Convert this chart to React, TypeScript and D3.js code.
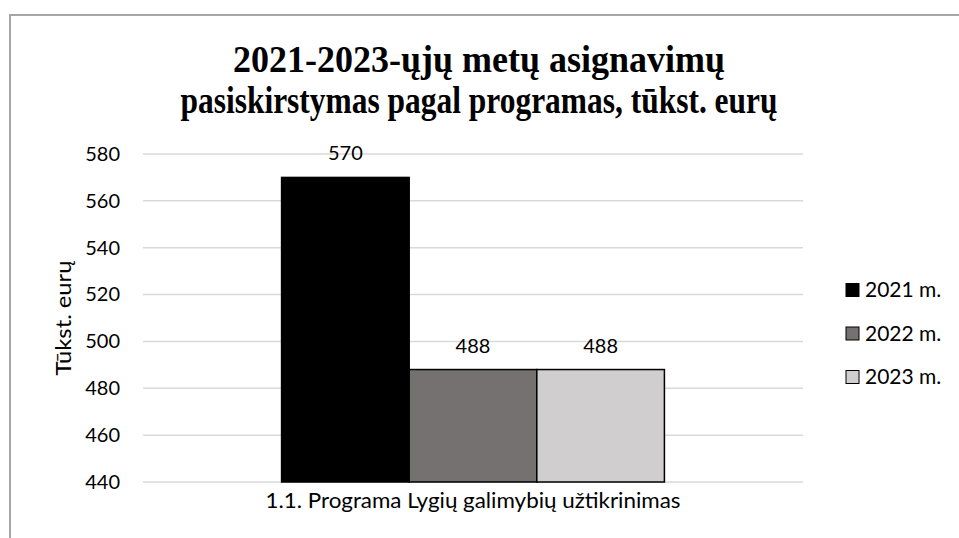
import React, { useEffect, useRef } from 'react';
import * as d3 from 'd3';

const categories = ['1.1. Programa Lygių galimybių užtikrinimas'];
const seriesNames = ['2021 m.', '2022 m.', '2023 m.'];
const values2021 = [570];
const values2022 = [488];
const values2023 = [488];
const yTicks = [440, 460, 480, 500, 520, 540, 560, 580];
const titleLines = ['2021-2023-ųjų metų asignavimų', 'pasiskirstymas pagal programas, tūkst. eurų'];
const yAxisTitle = 'Tūkst. eurų';

const colors = ['#000000', '#767171', '#d0cece'];
const W = 959;
const H = 538;
const FONT = 'Lato, "Open Sans", sans-serif';

export default function App() {
	const ref = useRef<SVGSVGElement | null>(null);

	useEffect(() => {
		const svgEl = ref.current;
		if (!svgEl) return;
		const svg = d3.select(svgEl);
		svg.selectAll('*').remove();

		const series = [values2021, values2022, values2023];
		const margin = { top: 154, left: 143, right: 156, bottom: 56 };
		const pw = W - margin.left - margin.right;
		const ph = H - margin.top - margin.bottom;

		svg.append('rect')
			.attr('width', W)
			.attr('height', H)
			.attr('fill', '#fff');

		// chart frame (cut off at right and bottom)
		svg.append('rect')
			.attr('x', 10)
			.attr('y', 15)
			.attr('width', 980)
			.attr('height', 560)
			.attr('fill', 'none')
			.attr('stroke', '#a6a6a6')
			.attr('stroke-width', 2);

		// title, squeezed to the widths of the original
		const titleWidths = [492, 597];
		titleLines.forEach((t, i) => {
			svg.append('text')
				.attr('x', 479)
				.attr('y', 72 + i * 41)
				.attr('text-anchor', 'middle')
				.attr('textLength', titleWidths[i])
				.attr('lengthAdjust', 'spacingAndGlyphs')
				.style('font-family', '"Liberation Serif", "Times New Roman", serif')
				.style('font-weight', 'bold')
				.style('font-size', '37px')
				.attr('fill', '#000')
				.text(t);
		});

		const g = svg.append('g')
			.attr('transform', `translate(${margin.left},${margin.top})`);

		const y = d3.scaleLinear().domain([440, 580]).range([ph, 0]);
		const x0 = d3.scaleBand<string>()
			.domain(categories)
			.range([0, pw])
			.paddingInner(0)
			.paddingOuter(0.362);
		const x1 = d3.scaleBand<string>()
			.domain(seriesNames)
			.range([0, x0.bandwidth()]);

		// gridlines
		g.append('g')
			.selectAll('line')
			.data(yTicks)
			.join('line')
			.attr('x1', 0)
			.attr('x2', pw)
			.attr('y1', (d) => y(d))
			.attr('y2', (d) => y(d))
			.attr('stroke', '#d9d9d9')
			.attr('stroke-width', 1.5);

		// y axis labels
		const yAxis = g.append('g')
			.call(d3.axisLeft(y).tickValues(yTicks).tickSize(0).tickPadding(23));
		yAxis.select('.domain').remove();
		yAxis.selectAll('text')
			.style('font-family', FONT)
			.style('font-size', '20px')
			.attr('fill', '#000');

		// bars
		categories.forEach((c, ci) => {
			const cg = g.append('g').attr('transform', `translate(${x0(c)},0)`);
			seriesNames.forEach((s, si) => {
				const v = series[si][ci];
				cg.append('rect')
					.attr('x', x1(s)!)
					.attr('y', y(v))
					.attr('width', x1.bandwidth())
					.attr('height', ph - y(v))
					.attr('fill', colors[si])
					.attr('stroke', '#000')
					.attr('stroke-width', 1.5);
				cg.append('text')
					.attr('x', x1(s)! + x1.bandwidth() / 2)
					.attr('y', y(v) - 17)
					.attr('text-anchor', 'middle')
					.style('font-family', FONT)
					.style('font-size', '20px')
					.attr('fill', '#000')
					.text(v);
			});
		});

		// category axis label
		g.append('g')
			.selectAll('text')
			.data(categories)
			.join('text')
			.attr('x', (d) => x0(d)! + x0.bandwidth() / 2)
			.attr('y', ph + 26)
			.attr('text-anchor', 'middle')
			.attr('textLength', 415)
			.attr('lengthAdjust', 'spacingAndGlyphs')
			.style('font-family', FONT)
			.style('font-size', '21px')
			.attr('fill', '#000')
			.text((d) => d);

		// y axis title
		svg.append('text')
			.attr('transform', `translate(71,${margin.top + ph / 2}) rotate(-90)`)
			.attr('text-anchor', 'middle')
			.attr('textLength', 115)
			.attr('lengthAdjust', 'spacingAndGlyphs')
			.style('font-family', FONT)
			.style('font-size', '22px')
			.attr('fill', '#000')
			.text(yAxisTitle);

		// legend
		const legend = svg.append('g').attr('transform', 'translate(846,290)');
		seriesNames.forEach((s, i) => {
			const row = legend.append('g').attr('transform', `translate(0,${i * 43.5})`);
			row.append('rect')
				.attr('x', 0)
				.attr('y', -6.5)
				.attr('width', 13)
				.attr('height', 13)
				.attr('fill', colors[i])
				.attr('stroke', '#000')
				.attr('stroke-width', 1);
			row.append('text')
				.attr('x', 19)
				.attr('y', 0)
				.attr('dy', '0.35em')
				.style('font-family', FONT)
				.style('font-size', '21px')
				.attr('fill', '#000')
				.text(s);
		});
	}, []);

	return (
		<svg
			ref={ref}
			width={W}
			height={H}
			style={{ position: 'absolute', left: 0, top: 0, display: 'block' }}
		/>
	);
}
